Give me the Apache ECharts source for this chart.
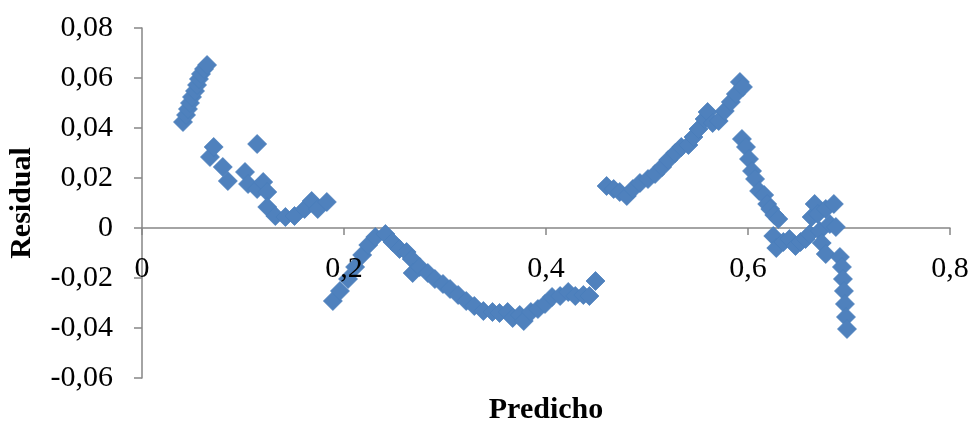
<!DOCTYPE html>
<html>
<head>
<meta charset="utf-8">
<script src="https://cdn.jsdelivr.net/npm/echarts@6/dist/echarts.min.js"></script>
<style>
html,body{margin:0;padding:0;background:#fff;}
#chart{width:975px;height:426px;}
</style>
</head>
<body>
<div id="chart"></div>
<script>
// Data
var predicho = [
  0.0406,0.0436,0.0455,0.0475,0.0495,0.0525,0.0545,0.0564,0.0584,0.0614,0.0644,
  0.0673,0.071,0.080,0.085,0.102,0.105,0.114,0.114,0.120,0.124,0.124,0.132,0.142,0.151,0.161,0.168,0.174,0.183,
  0.189,0.196,0.204,0.211,0.218,0.224,0.231,0.241,0.248,0.255,0.262,0.267,0.268,0.275,0.283,0.290,0.298,0.305,0.313,0.321,0.329,0.338,0.347,0.354,0.362,0.367,0.374,0.378,0.385,0.392,0.399,0.406,0.414,0.422,0.429,0.437,0.443,0.449,
  0.460,0.467,0.473,0.480,0.486,0.493,0.501,0.508,0.515,0.521,0.528,0.534,0.541,0.546,0.551,0.557,0.560,0.565,0.571,0.577,0.583,0.588,0.592,0.595,
  0.594,0.598,0.601,0.604,0.607,0.611,0.616,0.619,0.622,0.626,0.630,0.625,0.628,0.635,0.641,0.647,0.652,0.657,0.661,0.663,0.666,0.669,0.671,0.673,0.677,0.677,0.681,0.685,0.687,0.691,0.693,0.694,0.695,0.696,0.697,0.698
];
var residual = [
  0.0424,0.0452,0.0476,0.0500,0.0524,0.0548,0.0572,0.0596,0.0616,0.0636,0.0652,
  0.0284,0.0324,0.0244,0.0188,0.0224,0.0176,0.0336,0.0156,0.0184,0.0144,0.0084,0.0048,0.0044,0.0048,0.0076,0.0108,0.0076,0.0104,
  -0.0292,-0.0252,-0.0204,-0.0156,-0.0108,-0.0068,-0.0036,-0.0024,-0.0056,-0.0084,-0.0096,-0.0124,-0.018,-0.0156,-0.018,-0.0204,-0.0224,-0.0244,-0.0268,-0.0292,-0.0312,-0.0332,-0.0336,-0.034,-0.0336,-0.036,-0.0348,-0.0372,-0.0336,-0.0324,-0.0304,-0.0276,-0.0272,-0.0256,-0.0272,-0.0268,-0.0272,-0.0212,
  0.0168,0.0156,0.0144,0.0128,0.0156,0.018,0.0196,0.0216,0.0244,0.0272,0.030,0.0324,0.0332,0.0364,0.0396,0.0436,0.0464,0.042,0.0428,0.0468,0.0504,0.0536,0.0584,0.0564,
  0.0356,0.0324,0.0276,0.0228,0.0196,0.0148,0.0132,0.0096,0.0076,0.0052,0.0036,-0.0032,-0.008,-0.0056,-0.0044,-0.0072,-0.0056,-0.0044,-0.0024,0.0044,0.0096,0.0056,-0.0012,-0.006,-0.0104,0.0076,0.0016,0.0096,0.0004,-0.0116,-0.0156,-0.0204,-0.0252,-0.0304,-0.0356,-0.0404
];
var xTickLabels = ['0','0,2','0,4','0,6','0,8'];
var yTickLabels = ['-0,06','-0,04','-0,02','0','0,02','0,04','0,06','0,08'];
var xTitle = 'Predicho';
var yTitle = 'Residual';

var points = predicho.map(function(x,i){return [x, residual[i]];});
var font = 'Liberation Serif, Times New Roman, serif';
var axisGrey = '#868686';

var chart = echarts.init(document.getElementById('chart'));
chart.setOption({
  animation:false,
  grid:{left:142,right:25,top:28,bottom:48,containLabel:false,outerBoundsMode:'none'},
  xAxis:[{
    // axis line + ticks (under the markers)
    type:'value',min:0,max:0.8,interval:0.2,
    position:'bottom',offset:-150,z:0,
    name:xTitle,nameLocation:'middle',nameGap:167,
    nameTextStyle:{fontFamily:font,fontSize:30,fontWeight:'bold',color:'#000'},
    axisLine:{onZero:false,lineStyle:{color:axisGrey,width:1.5}},
    axisTick:{show:true,length:7,lineStyle:{color:axisGrey,width:1.5}},
    axisLabel:{show:false},
    splitLine:{show:false}
  },{
    // tick labels (drawn above the markers)
    type:'value',min:0,max:0.8,interval:0.2,
    position:'bottom',offset:-150,z:5,
    axisLine:{show:false,onZero:false},
    axisTick:{show:false},
    axisLabel:{margin:26,fontFamily:font,fontSize:30,color:'#000',showMinLabel:true,showMaxLabel:true,hideOverlap:false,
      formatter:function(v){return xTickLabels[Math.round(v/0.2)];}},
    splitLine:{show:false}
  }],
  yAxis:{
    type:'value',min:-0.06,max:0.08,interval:0.02,
    name:yTitle,nameLocation:'middle',nameGap:105,nameRotate:90,
    nameTextStyle:{fontFamily:font,fontSize:30,fontWeight:'bold',color:'#000'},
    axisLine:{show:true,onZero:false,lineStyle:{color:axisGrey,width:1.5}},
    axisTick:{show:true,length:8,lineStyle:{color:axisGrey,width:1.5}},
    axisLabel:{margin:29,fontFamily:font,fontSize:30,color:'#000',showMinLabel:true,showMaxLabel:true,hideOverlap:false,
      formatter:function(v){return yTickLabels[Math.round((v+0.06)/0.02)];}},
    splitLine:{show:false}
  },
  series:[{
    type:'scatter',
    xAxisIndex:0,
    data:points,
    symbol:'diamond',
    symbolSize:19,
    itemStyle:{color:'#4f81bd',borderColor:'#4a7ebb',borderWidth:0.75,opacity:1}
  }]
});
</script>
</body>
</html>
